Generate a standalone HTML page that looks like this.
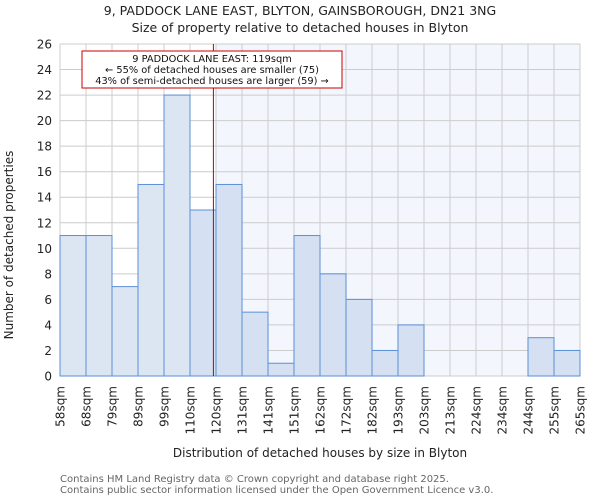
<!DOCTYPE html>
<html><head><meta charset="utf-8"><style>
body{margin:0;background:#fff;font-family:"DejaVu Sans","Liberation Sans",sans-serif}
</style></head><body>
<svg id="c" width="600" height="500" font-family="DejaVu Sans, Liberation Sans, sans-serif">
<text x="300" y="15" text-anchor="middle" font-size="12.5" fill="#222">9, PADDOCK LANE EAST, BLYTON, GAINSBOROUGH, DN21 3NG</text>
<text x="300" y="32" text-anchor="middle" font-size="12.5" fill="#222">Size of property relative to detached houses in Blyton</text>
<g id="plot"></g>
<text transform="translate(13,245) rotate(-90)" text-anchor="middle" font-size="12" fill="#222">Number of detached properties</text>
<text x="320" y="457" text-anchor="middle" font-size="12" fill="#222">Distribution of detached houses by size in Blyton</text>
<text x="60" y="482" font-size="10" fill="#666">Contains HM Land Registry data © Crown copyright and database right 2025.</text>
<text x="60" y="493" font-size="10" fill="#666">Contains public sector information licensed under the Open Government Licence v3.0.</text>
</svg>
<script>
const binLabels=["58sqm","68sqm","79sqm","89sqm","99sqm","110sqm","120sqm","131sqm","141sqm","151sqm","162sqm","172sqm","182sqm","193sqm","203sqm","213sqm","224sqm","234sqm","244sqm","255sqm","265sqm"];
const counts=[11,11,7,15,22,13,15,5,1,11,8,6,2,4,0,0,0,0,3,2];
const yTicks=[0,2,4,6,8,10,12,14,16,18,20,22,24,26];
const propertyBin=5.9;
const X0=60,X1=580,Y0=376,Y1=44,YMAX=26;
const n=counts.length,bw=(X1-X0)/n;
const xs=i=>X0+i*bw, ys=v=>Y0-(Y0-Y1)*v/YMAX;
const ns="http://www.w3.org/2000/svg",g=document.getElementById('plot');
function mk(t,a){const e=document.createElementNS(ns,t);for(const k in a)e.setAttribute(k,a[k]);g.appendChild(e);return e;}
const px=xs(propertyBin);
let e=mk('rect',{x:px+2,y:Y1,width:X1-px-2,height:Y0-Y1,fill:'#f3f6fc'});


for(const t of yTicks){const y=ys(t);
e=mk('line',{x1:X0,x2:X1,y1:y,y2:y,stroke:'#ccc','stroke-width':1});


e=mk('text',{x:X0-8,y:y+4.5,'text-anchor':'end','font-size':12,fill:'#222'});e.textContent=t;

}
binLabels.forEach((l,i)=>{const x=xs(i);
e=mk('line',{x1:x,x2:x,y1:Y1,y2:Y0,stroke:'#ccc','stroke-width':1});


e=mk('text',{transform:`translate(${x+4.5},${Y0+10}) rotate(-90)`,'text-anchor':'end','font-size':12,fill:'#222'});e.textContent=l;

});
counts.forEach((v,i)=>{if(v<=0)return;const right=i+1>propertyBin;
e=mk('rect',{x:xs(i),y:ys(v),width:bw,height:Y0-ys(v),fill:right?'#d5e1f2':'#dce6f3',stroke:'#5b8fd6','stroke-width':1});

});
e=mk('line',{x1:px,x2:px,y1:Y1,y2:Y0,stroke:'#b00','stroke-width':1});


e=mk('rect',{x:82,y:51,width:260,height:37,fill:'#fff',stroke:'#c00','stroke-width':1});


["9 PADDOCK LANE EAST: 119sqm","← 55% of detached houses are smaller (75)","43% of semi-detached houses are larger (59) →"].forEach((s,k)=>{
e=mk('text',{x:212,y:62+k*11,'text-anchor':'middle','font-size':9.8,fill:'#111'});e.textContent=s;

});
</script>
</body></html>
